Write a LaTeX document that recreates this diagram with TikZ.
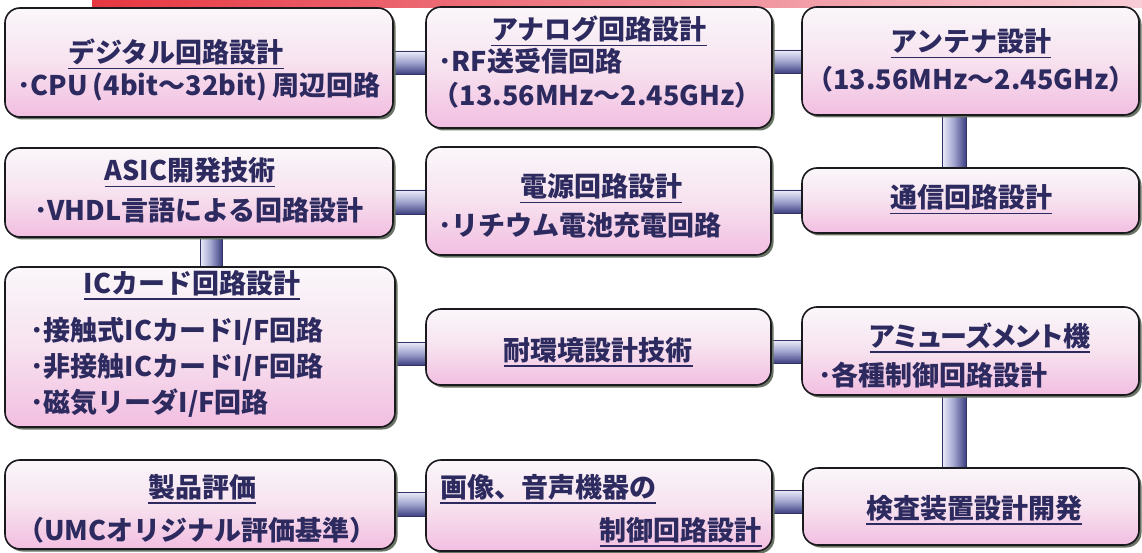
\documentclass[tikz,border=0pt]{standalone}
\usepackage{fontspec}
\newfontfamily\jpf{Noto Sans CJK JP}
\usetikzlibrary{shadows,backgrounds,calc}
\definecolor{txtc}{RGB}{45,42,95}
\definecolor{boxtop}{RGB}{250,247,250}
\definecolor{boxmid}{RGB}{247,226,239}
\definecolor{boxbot}{RGB}{242,190,225}
\definecolor{boxline}{RGB}{25,25,30}
\definecolor{shd}{RGB}{105,115,100}
\definecolor{barlight}{RGB}{236,237,250}
\definecolor{barmid}{RGB}{160,163,205}
\definecolor{bardark}{RGB}{62,64,130}
\definecolor{barline}{RGB}{50,50,100}
\definecolor{redl}{RGB}{230,55,65}
\definecolor{redr}{RGB}{247,205,215}
\newcommand{\ulx}[1]{\setbox0=\hbox{#1}\rlap{\copy0}\rule[-6.5pt]{\wd0}{1.8pt}}
\begin{document}
\begin{tikzpicture}[x=1pt,y=-1pt,
  box/.style={draw=boxline, line width=1.6pt, rounded corners=15pt,
    top color=boxtop, bottom color=boxbot, middle color=boxmid,
    drop shadow={shadow xshift=2.5pt, shadow yshift=-2.5pt, fill=shd, opacity=1},
    inner sep=0pt},
  txt/.style={text=txtc, font=\jpf\bfseries\fontsize{27pt}{30pt}\selectfont, inner sep=0pt},
  hbar/.style={top color=barlight, bottom color=bardark, middle color=barmid, draw=barline, line width=0.8pt},
  vbar/.style={left color=barlight, right color=bardark, middle color=barmid, draw=barline, line width=0.8pt}]
\useasboundingbox (0,0) rectangle (1142,553);
% top banner
\fill[left color=redl, right color=redr] (92,0) rectangle (1142,7.5);
% boxes
\node[box, minimum width=388pt, minimum height=109pt] (A) at (199,62.5) {};
\node[box, minimum width=346pt, minimum height=121pt] (B) at (599,67.5) {};
\node[box, minimum width=337pt, minimum height=108pt] (C) at (970.5,61) {};
\node[box, minimum width=388pt, minimum height=89pt] (D1) at (199,192.5) {};
\node[box, minimum width=345pt, minimum height=108pt] (D2) at (598.5,201) {};
\node[box, minimum width=337pt, minimum height=65pt] (D3) at (970.5,200.5) {};
\node[box, minimum width=390pt, minimum height=160pt] (E1) at (200,347) {};
\node[box, minimum width=345pt, minimum height=76pt] (E2) at (598.5,347) {};
\node[box, minimum width=337pt, minimum height=88pt] (E3) at (970.5,351) {};
\node[box, minimum width=390pt, minimum height=89pt] (F1) at (200,504.5) {};
\node[box, minimum width=346pt, minimum height=91pt] (F2) at (599,505.5) {};
\node[box, minimum width=336pt, minimum height=77pt] (F3) at (971,506.5) {};
% connectors
\begin{scope}[on background layer]
\fill[white] (0,0) rectangle (1142,553);
\path[hbar] ($(A.east)+(0,-11.5)$) rectangle ($(B.west)+(0,6.5)$);
\path[hbar] ($(B.east)+(0,-17.5)$) rectangle ($(C.west)+(0,12)$);
\path[hbar] ($(D1.east)+(0,-2.5)$) rectangle ($(D2.west)+(0,13)$);
\path[hbar] ($(D2.east)+(0,-11)$) rectangle ($(D3.west)+(0,12.5)$);
\path[hbar] ($(E1.east)+(0,-5)$) rectangle ($(E2.west)+(0,18)$);
\path[hbar] ($(E2.east)+(0,-7)$) rectangle ($(E3.west)+(0,12)$);
\path[hbar] ($(F1.east)+(0,-12.5)$) rectangle ($(F2.west)+(0,10.5)$);
\path[hbar] ($(F2.east)+(0,-15.5)$) rectangle ($(F3.west)+(0,6.5)$);
\path[vbar] ($(C.south)+(-28.5,0)$) rectangle ($(D3.north)+(-4.5,0)$);
\path[vbar] ($(D1.south)+(1,0)$) rectangle ($(E1.north)+(22,0)$);
\path[vbar] ($(E3.south)+(-28.5,0)$) rectangle ($(F3.north)+(-5,0)$);
\end{scope}
% texts
\node[txt, anchor=base] (ta1) at (176,63) {\ulx{デジタル回路設計}};
\node[txt, anchor=base] (ta2) at (199,96) {･CPU\hspace{5pt}(4bit～32bit)\hspace{5pt}周辺回路};
\node[txt, anchor=base] (tb1) at (599,40) {\ulx{アナログ回路設計}};
\node[txt, anchor=base west] (tb2) at (438,72) {･RF送受信回路};
\node[txt, anchor=base east] (tb3) at (762,106) {（13.56MHz～2.45GHz）};
\node[txt, anchor=base] (tc1) at (971,52) {\ulx{アンテナ設計}};
\node[txt, anchor=base] (tc2) at (971,90) {（13.56MHz～2.45GHz）};
\node[txt, anchor=base] (td11) at (190,181) {\ulx{ASIC開発技術}};
\node[txt, anchor=base] (td12) at (199,221) {･VHDL言語による回路設計};
\node[txt, anchor=base] (td21) at (601,197) {\ulx{電源回路設計}};
\node[txt, anchor=base west] (td22) at (438,236) {･リチウム電池充電回路};
\node[txt, anchor=base] (td3) at (971,208) {\ulx{通信回路設計}};
\node[txt, anchor=base] (te11) at (192,293) {\ulx{ICカード回路設計}};
\node[txt, anchor=base west] (te12) at (30,340) {･接触式ICカードI/F回路};
\node[txt, anchor=base west] (te13) at (30,376) {･非接触ICカードI/F回路};
\node[txt, anchor=base west] (te14) at (30,412) {･磁気リーダI/F回路};
\node[txt, anchor=base] (te2) at (598,360) {\ulx{耐環境設計技術}};
\node[txt, anchor=base] (te31) at (980,346) {\addfontfeatures{RawFeature=+palt}\ulx{アミューズメント機}};
\node[txt, anchor=base west] (te32) at (818,385) {･各種制御回路設計};
\node[txt, anchor=base] (tf11) at (202,497) {\ulx{製品評価}};
\node[txt, anchor=base] (tf12) at (197,540) {（UMCオリジナル評価基準）};
\node[txt, anchor=base west] (tf21) at (440,497) {\ulx{画像、音声機器の}};
\node[txt, anchor=base east] (tf22) at (762,540) {\ulx{制御回路設計}};
\node[txt, anchor=base] (tf3) at (974,518) {\ulx{検査装置設計開発}};
\end{tikzpicture}
\end{document}
